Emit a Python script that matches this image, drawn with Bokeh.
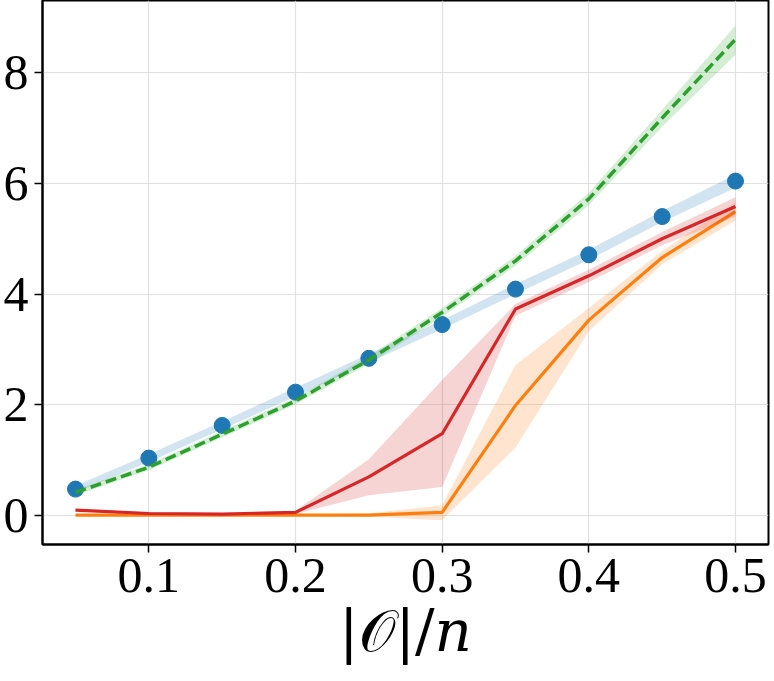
from bokeh.plotting import figure
from bokeh.models import FixedTicker, PrintfTickFormatter, Range1d
from bokeh.embed import file_html
from bokeh.resources import INLINE

frac = [0.05, 0.10, 0.15, 0.20, 0.25, 0.30, 0.35, 0.40, 0.45, 0.50]

blue_mean = [0.48, 1.04, 1.63, 2.23, 2.84, 3.45, 4.09, 4.71, 5.40, 6.04]
blue_lo = [0.42, 0.97, 1.56, 2.15, 2.76, 3.37, 4.00, 4.62, 5.30, 5.92]
blue_hi = [0.54, 1.11, 1.70, 2.31, 2.92, 3.53, 4.18, 4.80, 5.50, 6.16]

green_mean = [0.42, 0.875, 1.47, 2.07, 2.81, 3.67, 4.60, 5.72, 7.18, 8.60]
green_lo = [0.37, 0.82, 1.41, 2.01, 2.74, 3.59, 4.51, 5.61, 7.02, 8.32]
green_hi = [0.47, 0.93, 1.53, 2.13, 2.88, 3.75, 4.69, 5.83, 7.33, 8.85]

red_mean = [0.10, 0.04, 0.03, 0.06, 0.70, 1.48, 3.73, 4.33, 5.00, 5.58]
red_lo = [0.08, 0.02, 0.01, 0.03, 0.37, 0.52, 3.61, 4.22, 4.88, 5.40]
red_hi = [0.12, 0.06, 0.05, 0.09, 1.02, 2.45, 3.82, 4.44, 5.12, 5.75]

orange_mean = [0.01, 0.01, 0.01, 0.01, 0.01, 0.06, 1.99, 3.53, 4.66, 5.49]
orange_lo = [0.0, 0.0, 0.0, 0.0, -0.02, -0.08, 1.23, 3.33, 4.54, 5.33]
orange_hi = [0.02, 0.02, 0.02, 0.02, 0.04, 0.19, 2.72, 3.75, 4.78, 5.66]

x_ticks = [0.1, 0.2, 0.3, 0.4, 0.5]
y_ticks = [0, 2, 4, 6, 8]

BLUE = "#1f77b4"
ORANGE = "#ff7f0e"
GREEN = "#2ca02c"
RED = "#d62728"

p = figure(frame_width=726, frame_height=544,
           output_backend="svg", toolbar_location=None,
           x_range=Range1d(0.0275, 0.5225), y_range=Range1d(-0.52, 9.3),
           min_border_left=4, min_border_right=2, min_border_top=0, min_border_bottom=0)

p.background_fill_color = "white"
p.outline_line_color = "black"
p.outline_line_width = 2

# blue
p.varea(x=frac, y1=blue_lo, y2=blue_hi, fill_color=BLUE, fill_alpha=0.2)
p.scatter(x=frac, y=blue_mean, size=16, fill_color=BLUE, line_color=BLUE)
# green
p.varea(x=frac, y1=green_lo, y2=green_hi, fill_color=GREEN, fill_alpha=0.2)
p.line(x=frac, y=green_mean, line_color=GREEN, line_width=3.5, line_dash="11 5")
# orange
p.varea(x=frac, y1=orange_lo, y2=orange_hi, fill_color=ORANGE, fill_alpha=0.2)
p.line(x=frac, y=orange_mean, line_color=ORANGE, line_width=3.2)
# red
p.varea(x=frac, y1=red_lo, y2=red_hi, fill_color=RED, fill_alpha=0.2)
p.line(x=frac, y=red_mean, line_color=RED, line_width=3.2)

p.xaxis.ticker = FixedTicker(ticks=x_ticks)
p.yaxis.ticker = FixedTicker(ticks=y_ticks)
p.xaxis.formatter = PrintfTickFormatter(format="%.1f")
p.yaxis.formatter = PrintfTickFormatter(format="%d")

for ax in (p.xaxis[0], p.yaxis[0]):
    ax.axis_line_color = "black"
    ax.axis_line_width = 2
    ax.major_tick_line_color = "black"
    ax.major_tick_line_width = 1.5
    ax.major_tick_out = 8
    ax.major_tick_in = 0
    ax.minor_tick_line_color = None
    ax.major_label_text_font = "Liberation Serif"
    ax.major_label_text_font_size = "50px"
    ax.major_label_text_color = "black"

p.xaxis.major_label_standoff = 6
p.yaxis.major_label_standoff = 6

p.xaxis.axis_label = "|𝒪|/𝑛"
p.xaxis.axis_label_text_font = "DejaVu Serif"
p.xaxis.axis_label_text_font_style = "normal"
p.xaxis.axis_label_text_font_size = "58px"
p.xaxis.axis_label_text_color = "black"
p.xaxis.axis_label_standoff = 2

p.grid.grid_line_color = "#d9d9d9"
p.grid.grid_line_width = 1.2
p.grid.grid_line_alpha = 0.8

open("out.html", "w").write(file_html(p, INLINE))
